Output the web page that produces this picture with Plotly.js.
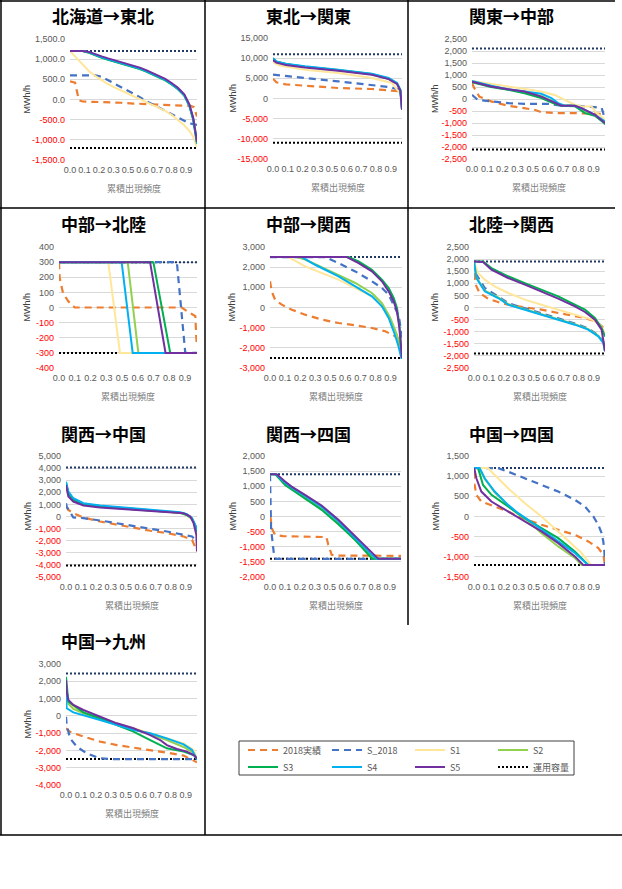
<!DOCTYPE html>
<html><head><meta charset="utf-8">
<script src="https://cdn.plot.ly/plotly-3.0.1.min.js"></script>
<style>html,body{margin:0;padding:0;background:#fff}</style>
</head><body>
<div id="chart" style="width:622px;height:889px"></div>
<script>
// ---------------- data ----------------
const SERIES = ['2018実績','S_2018','S1','S2','S3','S4','S5'];
const CAP_NAME = '運用容量';
const PANEL_TITLES = ['北海道→東北','東北→関東','関東→中部','中部→北陸','中部→関西','北陸→関西','関西→中国','関西→四国','中国→四国','中国→九州'];
const CAP_UP   = [1200, 11000, 2100, 300, 2500, 1900, 4050, 1400, 1200, 2450];
const CAP_DOWN = [-1200, -11000, -2100, -300, -2500, -1900, -4050, -1400, -1200, -2500];
const XTICK_TEXT = ['0.0','0.1','0.2','0.3','0.5','0.6','0.7','0.8','0.9'];
const XTICK_POS = [0, 1000/8760, 2000/8760, 3000/8760, 4000/8760, 5000/8760, 6000/8760, 7000/8760, 8000/8760];

// 北海道→東北
const HT_X = [
 [0,0.04,0.055,0.07,0.1,0.2,0.3,0.4,0.5,0.6,0.7,0.8,0.9,0.95,0.975,0.99,1],
 [0,0.2,0.25,0.3,0.35,0.4,0.45,0.5,0.55,0.6,0.65,0.7,0.75,0.8,0.85,0.9,0.94,0.97,1],
 [0,0.03,0.07,0.1,0.15,0.2,0.25,0.3,0.35,0.4,0.45,0.5,0.55,0.6,0.65,0.7,0.75,0.8,0.85,0.9,0.94,0.97,1],
 [0,0.1,0.15,0.2,0.25,0.3,0.35,0.4,0.45,0.5,0.55,0.6,0.65,0.7,0.75,0.8,0.85,0.9,0.94,0.97,0.99,1],
 [0,0.1,0.15,0.2,0.25,0.3,0.35,0.4,0.45,0.5,0.55,0.6,0.65,0.7,0.75,0.8,0.85,0.9,0.94,0.97,0.99,1],
 [0,0.1,0.15,0.2,0.25,0.3,0.35,0.4,0.45,0.5,0.55,0.6,0.65,0.7,0.75,0.8,0.85,0.9,0.94,0.97,0.99,1],
 [0,0.1,0.15,0.2,0.25,0.3,0.35,0.4,0.45,0.5,0.55,0.6,0.65,0.7,0.75,0.8,0.85,0.9,0.94,0.97,0.99,1]
];
const HT_Y = [
 [450,420,200,-20,-50,-55,-65,-80,-100,-115,-130,-140,-150,-160,-190,-330,-420],
 [600,600,560,480,400,320,230,150,60,-40,-110,-200,-280,-360,-450,-530,-590,-610,-630],
 [1200,1100,950,850,700,580,470,380,300,220,150,80,10,-60,-130,-200,-280,-380,-500,-640,-780,-920,-1180],
 [1200,1200,1165,1095,1040,990,945,900,855,810,760,700,630,560,480,380,260,100,-150,-480,-820,-1000],
 [1200,1200,1160,1090,1035,985,940,895,850,805,755,695,625,555,475,375,255,95,-160,-500,-850,-1100],
 [1200,1200,1170,1100,1045,995,950,905,860,815,765,705,635,565,485,385,265,105,-150,-480,-830,-1080],
 [1200,1200,1180,1120,1070,1020,975,930,885,840,790,730,660,590,510,410,290,130,-120,-450,-800,-1050]
];

// 東北→関東
const TK_X = [
 [0,0.026,0.1,0.247,0.506,0.766,0.922,0.987,1],
 [0,0.05,0.247,0.506,0.766,0.896,0.961,1],
 [0,0.013,0.05,0.247,0.506,0.766,0.922,0.961,0.987,1],
 [0,0.026,0.1,0.247,0.506,0.766,0.896,0.961,0.987,0.995,1],
 [0,0.026,0.1,0.247,0.506,0.766,0.896,0.961,0.987,0.995,1],
 [0,0.026,0.1,0.247,0.506,0.766,0.896,0.961,0.987,0.995,1],
 [0,0.026,0.1,0.247,0.506,0.766,0.896,0.961,0.987,0.995,1]
];
const TK_Y = [
 [4900,4000,3500,3180,2600,2350,2020,1780,1500],
 [5900,5700,5080,4250,3430,2850,2350,1500],
 [9000,8800,8200,7150,6320,5080,3840,2190,1400,800],
 [9900,9150,8550,7900,7080,6080,5000,3750,2150,-50,-2700],
 [9800,9100,8500,7850,7000,6000,4900,3700,2100,-100,-2700],
 [10040,9200,8600,7970,7150,6150,5080,3840,2190,0,-2700],
 [9500,8900,8300,7700,6900,5900,4800,3600,2000,-200,-2770]
];

// 関東→中部
const KC_X = [
 [0,0.018,0.055,0.144,0.27,0.395,0.471,0.521,0.647,0.773,0.899,0.975,1],
 [0,0.043,0.144,0.27,0.395,0.572,0.673,0.773,0.924,0.975,0.987,1],
 [0,0.144,0.27,0.395,0.521,0.622,0.698,0.773,0.824,0.899,0.937,0.987,1],
 [0,0.144,0.27,0.395,0.521,0.622,0.673,0.773,0.849,0.924,1],
 [0,0.144,0.27,0.395,0.521,0.622,0.673,0.773,0.849,0.924,1],
 [0,0.144,0.27,0.395,0.521,0.597,0.647,0.698,0.773,0.849,0.924,1],
 [0,0.144,0.27,0.395,0.521,0.622,0.673,0.773,0.824,0.924,1]
];
const KC_Y = [
 [660,450,100,-100,-280,-380,-450,-550,-590,-590,-590,-590,-620],
 [170,-35,-100,-170,-200,-200,-280,-280,-340,-380,-590,-1070],
 [755,630,520,410,310,170,-35,-240,-310,-310,-590,-800,-930],
 [720,530,400,280,120,-120,-260,-280,-500,-680,-980],
 [700,500,390,240,35,-200,-280,-300,-590,-700,-1030],
 [750,550,410,310,215,35,-170,-280,-280,-450,-660,-930],
 [720,520,410,310,100,-170,-280,-280,-380,-660,-1000]
];

// 中部→北陸
const CH_X = [
 [0,0.005,0.029,0.066,0.114,0.89,0.927,0.988,0.995,1],
 [0,0.854,0.915,1],
 [0,0.357,0.442,1],
 [0,0.498,0.575,1],
 [0,0.684,0.806,1],
 [0,0.454,0.534,1],
 [0,0.66,0.772,1]
];
const CH_Y = [
 [300,195,96,42,0,0,-24,-57,-200,-260],
 [300,300,-300,-300],
 [300,300,-300,-300],
 [300,300,-300,-300],
 [300,300,-300,-300],
 [300,300,-300,-300],
 [300,300,-300,-300]
];

// 中部→関西
const CK_X = [
 [0,0.013,0.038,0.089,0.165,0.266,0.392,0.519,0.646,0.772,0.873,0.949,1],
 [0,0.418,0.519,0.646,0.772,0.848,0.899,0.937,0.96,0.98,1],
 [0,0.139,0.266,0.392,0.519,0.646,0.772,0.848,0.899,0.949,0.98,1],
 [0,0.2,0.266,0.342,0.519,0.646,0.772,0.848,0.911,0.962,0.995,1],
 [0,0.595,0.671,0.772,0.848,0.899,0.937,0.962,0.98,0.995,1],
 [0,0.24,0.342,0.519,0.646,0.772,0.848,0.899,0.937,0.97,0.995,1],
 [0,0.582,0.671,0.772,0.848,0.899,0.937,0.962,0.98,1]
];
const CK_Y = [
 [1300,800,390,140,-107,-355,-600,-770,-885,-1017,-1180,-1430,-1680],
 [2500,2500,2200,1790,1300,967,636,140,-200,-600,-1500],
 [2500,2500,2040,1710,1380,967,553,140,-355,-1180,-1900,-2500],
 [2500,2500,2380,2150,1630,1215,720,223,-520,-1350,-2170,-2500],
 [2500,2500,2290,1876,1380,967,471,-25,-850,-2000,-2500],
 [2500,2500,2120,1545,1050,553,58,-520,-1180,-1840,-2500,-2500],
 [2500,2500,2200,1790,1300,800,305,-190,-1000,-2500]
];

// 北陸→関西
const HK_X = [
 [0,0.013,0.043,0.107,0.184,0.26,0.388,0.515,0.643,0.77,0.847,0.923,0.962,1],
 [0,0.018,0.082,0.158,0.26,0.337,0.388,0.515,0.643,0.77,0.872,0.949,0.987,1],
 [0,0.031,0.082,0.158,0.26,0.388,0.515,0.643,0.77,0.898,0.962,1],
 [0,0.018,0.082,0.184,0.26,0.388,0.515,0.643,0.77,0.872,0.949,0.987,1],
 [0,0.069,0.133,0.26,0.388,0.515,0.643,0.77,0.847,0.923,0.974,1],
 [0,0.018,0.082,0.184,0.26,0.388,0.515,0.643,0.77,0.872,0.949,0.987,1],
 [0,0.069,0.133,0.26,0.388,0.515,0.643,0.77,0.847,0.923,0.974,1]
];
const HK_Y = [
 [1425,940,600,365,227,117,7,-90,-227,-365,-434,-571,-710,-900],
 [1900,1356,805,530,186,48,-40,-250,-450,-660,-870,-1150,-1420,-1750],
 [1900,1425,1150,874,600,324,117,-90,-268,-500,-710,-1050],
 [1900,1250,700,420,140,-70,-280,-480,-690,-895,-1170,-1440,-1800],
 [1900,1900,1630,1290,1010,737,460,117,-90,-434,-847,-1200],
 [1900,1220,668,392,117,-90,-296,-500,-710,-915,-1190,-1466,-1810],
 [1900,1880,1560,1220,943,668,365,48,-186,-500,-915,-1810]
];

// 関西→中国
const KG_X = [
 [0,0.018,0.056,0.133,0.26,0.388,0.515,0.643,0.77,0.898,0.962,1],
 [0,0.005,0.056,0.133,0.26,0.388,0.515,0.643,0.77,0.898,0.962,1],
 [0,0.018,0.056,0.133,0.26,0.515,0.77,0.872,0.923,0.962,0.987,1],
 [0,0.018,0.056,0.133,0.26,0.515,0.77,0.872,0.923,0.962,0.987,1],
 [0,0.018,0.056,0.133,0.26,0.515,0.77,0.872,0.923,0.962,0.987,1],
 [0,0.018,0.056,0.133,0.26,0.515,0.77,0.872,0.923,0.962,0.987,1],
 [0,0.018,0.056,0.133,0.26,0.515,0.77,0.898,0.949,0.974,0.995,1]
];
const KG_Y = [
 [824,550,275,-82,-412,-687,-906,-1180,-1373,-1650,-1923,-2880],
 [1100,824,-82,-137,-330,-550,-824,-1044,-1236,-1510,-1650,-2060],
 [2500,1850,1350,1000,820,620,410,290,80,-250,-700,-900],
 [2700,1950,1420,1050,860,650,440,320,150,-200,-750,-1200],
 [2800,1900,1400,1000,800,600,400,300,120,-150,-800,-1300],
 [2880,2060,1510,1100,906,687,467,357,192,-137,-687,-1100],
 [2610,1650,1236,906,742,550,357,275,0,-550,-1510,-2880]
];

// 関西→四国
const KS_X = [
 [0,0.005,0.013,0.038,0.1,0.3,0.43,0.445,0.471,0.5,1],
 [0,0.008,0.03,0.045,1],
 [0,0.04,0.115,0.165,0.267,0.394,0.522,0.649,0.776,0.802,1],
 [0,0.04,0.115,0.165,0.267,0.394,0.522,0.649,0.776,0.795,1],
 [0,0.04,0.115,0.267,0.394,0.522,0.649,0.776,0.789,1],
 [0,0.045,0.115,0.165,0.267,0.394,0.522,0.649,0.776,0.814,1],
 [0,0.051,0.115,0.165,0.267,0.394,0.522,0.649,0.776,0.827,1]
];
const KS_Y = [
 [0,-50,-385,-604,-650,-670,-680,-934,-1264,-1290,-1300],
 [1400,-400,-1250,-1400,-1400],
 [1400,1400,1080,930,640,280,-200,-760,-1300,-1400,-1400],
 [1400,1400,1060,910,620,250,-230,-780,-1330,-1400,-1400],
 [1400,1400,1044,604,220,-253,-770,-1374,-1400,-1400],
 [1400,1400,1120,960,680,320,-160,-720,-1260,-1400,-1400],
 [1400,1400,1154,989,714,363,-110,-660,-1209,-1400,-1400]
];

// 中国→四国
const CS_X = [
 [0,0.005,0.018,0.056,0.158,0.26,0.337,0.515,0.643,0.77,0.872,0.949,0.987,1],
 [0,0.184,0.26,0.388,0.515,0.643,0.77,0.847,0.911,0.949,0.974,0.987,0.995,1],
 [0,0.107,0.158,0.26,0.388,0.515,0.643,0.77,0.821,0.872,0.893,1],
 [0,0.04,0.082,0.158,0.26,0.337,0.413,0.515,0.643,0.77,0.821,1],
 [0,0.031,0.069,0.133,0.26,0.388,0.515,0.643,0.77,0.847,0.872,1],
 [0,0.043,0.082,0.158,0.26,0.337,0.413,0.515,0.643,0.77,0.847,0.872,1],
 [0,0.005,0.018,0.056,0.133,0.26,0.388,0.515,0.643,0.77,0.834,1]
];
const CS_Y = [
 [1112,783,536,371,247,124,0,-206,-330,-453,-618,-783,-948,-1200],
 [1200,1200,1112,948,783,618,412,247,0,-206,-412,-618,-865,-1200],
 [1200,1200,1030,700,330,0,-371,-742,-906,-1112,-1200,-1200],
 [1200,1200,930,600,270,60,-110,-412,-742,-1030,-1200,-1200],
 [1200,1200,783,536,247,-41,-288,-536,-865,-1112,-1200,-1200],
 [1200,1200,948,618,288,82,-82,-330,-618,-906,-1112,-1200,-1200],
 [1200,1150,948,618,371,124,-124,-371,-660,-989,-1200,-1200]
];

// 中国→九州
const CQ_X = [
 [0,0.005,0.031,0.133,0.26,0.388,0.515,0.643,0.77,0.898,1],
 [0,0.005,0.031,0.082,0.158,0.26,0.337,1],
 [0,0.031,0.133,0.26,0.388,0.515,0.643,0.77,0.898,0.974,1],
 [0,0.018,0.056,0.133,0.26,0.388,0.515,0.643,0.77,0.898,0.974,1],
 [0,0.018,0.133,0.26,0.388,0.515,0.643,0.719,0.77,0.898,0.974,1],
 [0,0.005,0.056,0.133,0.26,0.388,0.515,0.643,0.77,0.898,0.962,1],
 [0,0.005,0.018,0.056,0.133,0.26,0.388,0.515,0.643,0.719,0.77,0.847,0.923,0.974,1]
];
const CQ_Y = [
 [-700,-765,-920,-1200,-1490,-1690,-1840,-1970,-2130,-2300,-2690],
 [-50,-530,-1300,-1780,-2170,-2460,-2500,-2500],
 [1200,630,200,-140,-430,-720,-1010,-1300,-1590,-1970,-2460],
 [1500,700,400,150,-180,-480,-780,-1050,-1400,-1800,-2150,-2500],
 [2260,820,200,-140,-530,-910,-1400,-1690,-1880,-2070,-2270,-2460],
 [1300,435,200,50,-240,-530,-815,-1010,-1300,-1650,-1970,-2560],
 [2070,1400,918,630,340,-46,-432,-720,-1110,-1400,-1690,-1920,-2070,-2270,-2460]
];

const PANEL_X = [HT_X, TK_X, KC_X, CH_X, CK_X, HK_X, KG_X, KS_X, CS_X, CQ_X];
const PANEL_Y = [HT_Y, TK_Y, KC_Y, CH_Y, CK_Y, HK_Y, KG_Y, KS_Y, CS_Y, CQ_Y];

// ---------------- styling / geometry ----------------
const W = 622, H = 889;
const COLORS = ['#ED7D31','#4472C4','#FFE699','#92D050','#00B050','#00B0F0','#7030A0'];
const DASHES = ['7px,5px','7px,5px','solid','solid','solid','solid','solid'];
// plot boxes [left, right, top, bottom] in px
const BOX = [
 [70,197,39,160],[273,402,38,159],[472,605,39,159],
 [59,197,247,368],[270,402,247,368],[474,605,247,368],
 [66,197,456,577],[270,401,456,577],[474,605,456,577],
 [66,197,664,785]
];
const CELL_X = [0,205,408, 0,205,408, 0,205,408, 0];
const TITLE_Y = [15,15,15, 223,223,223, 433,433,433, 640];
const YAX = [ // [min,max,step,decimals]
 [-1500,1500,500,1],[-15000,15000,5000,0],[-2500,2500,500,0],
 [-400,400,100,0],[-3000,3000,1000,0],[-2500,2500,500,0],
 [-5000,5000,1000,0],[-2000,2000,500,0],[-1500,1500,500,0],
 [-4000,3000,1000,0]
];
// legend entry anchor positions (px): 7 series then capacity
const LEG_POS = [[243,750],[327,750],[410,750],[493,750],[243,767],[327,767],[410,767],[493,767]];
const FONT = 'Liberation Sans, Noto Sans CJK JP, sans-serif';
const JFONT = 'Noto Sans CJK JP, sans-serif';

function fmt(v, d){
  const s = Math.abs(v).toLocaleString('en-US',{minimumFractionDigits:d, maximumFractionDigits:d});
  if (v < 0) return '<span style="color:#FF0000">-' + s + '</span>';
  return s;
}
function legName(j){ return j === 0 ? 'legend' : 'legend' + (j + 1); }

const traces = [];
const layout = {
  width: W, height: H, margin:{l:0,r:0,t:0,b:0},
  paper_bgcolor:'#fff', plot_bgcolor:'rgba(0,0,0,0)',
  font:{family:FONT, size:9, color:'#595959'},
  showlegend:true,
  annotations:[], shapes:[]
};
LEG_POS.forEach((p, j) => {
  layout[legName(j)] = {orientation:'v', x:p[0]/W, y:1-p[1]/H, xanchor:'left', yanchor:'middle',
    itemwidth:30, bgcolor:'rgba(0,0,0,0)', borderwidth:0,
    font:{family:JFONT, size:9, color:'#595959'}};
});

for (let i = 0; i < 10; i++) {
  const k = i === 0 ? '' : String(i + 1);
  const [l, r, t, b] = BOX[i];
  const [ymin, ymax, step, dec] = YAX[i];
  const tv = [], tt = [];
  for (let v = ymin; v <= ymax + 1e-9; v += step) { tv.push(v); tt.push(fmt(v, dec)); }
  layout['xaxis' + k] = {
    domain:[l / W, r / W], anchor:'y' + k, range:[0, 1], fixedrange:true,
    tickmode:'array', tickvals:XTICK_POS, ticktext:XTICK_TEXT, tickangle:0,
    showgrid:false, zeroline:false, showline:false, ticks:'',
    ticklabelstandoff:3, tickfont:{family:FONT, size:9, color:'#595959'}
  };
  layout['yaxis' + k] = {
    domain:[1 - b / H, 1 - t / H], anchor:'x' + k, range:[ymin, ymax], fixedrange:true,
    tickmode:'array', tickvals:tv, ticktext:tt,
    showgrid:true, gridcolor:'#D9D9D9', gridwidth:1, zeroline:false, showline:false, ticks:'',
    ticklabelstandoff:4, tickfont:{family:FONT, size:9, color:'#595959'}
  };
  traces.push({x:[0,1], y:[CAP_UP[i], CAP_UP[i]], xaxis:'x'+k, yaxis:'y'+k, mode:'lines',
    line:{color:'#1F3864', width:2, dash:'2px,2px'}, showlegend:false, hoverinfo:'skip'});
  traces.push({x:[0,1], y:[CAP_DOWN[i], CAP_DOWN[i]], xaxis:'x'+k, yaxis:'y'+k, mode:'lines',
    name:CAP_NAME, legend:legName(7),
    line:{color:'#000000', width:2, dash:'2px,2px'}, showlegend:i===0, hoverinfo:'skip'});
  for (let s = 0; s < SERIES.length; s++) {
    traces.push({x:PANEL_X[i][s], y:PANEL_Y[i][s], xaxis:'x'+k, yaxis:'y'+k, mode:'lines',
      name:SERIES[s], legend:legName(s),
      line:{color:COLORS[s], width: s < 2 ? 2.2 : 2, dash:DASHES[s]},
      showlegend:i===0, hoverinfo:'skip'});
  }
  layout.annotations.push({text:'<b>' + PANEL_TITLES[i] + '</b>', xref:'paper', yref:'paper',
    x:(CELL_X[i] + 103) / W, y:1 - TITLE_Y[i] / H, xanchor:'center', yanchor:'middle', showarrow:false,
    font:{family:JFONT, size:17, color:'#000'}});
  layout.annotations.push({text:'累積出現頻度', xref:'paper', yref:'paper',
    x:((l + r) / 2) / W, y:1 - (b + 28) / H, xanchor:'center', yanchor:'middle', showarrow:false,
    font:{family:JFONT, size:9, color:'#808080'}});
  layout.annotations.push({text:'MWh/h', xref:'paper', yref:'paper', textangle:-90,
    x:(CELL_X[i] + 27) / W, y:1 - ((t + b) / 2) / H, xanchor:'center', yanchor:'middle', showarrow:false,
    font:{family:FONT, size:9, color:'#404040'}});
}

function hline(y, x0, x1, w){ layout.shapes.push({type:'line', xref:'paper', yref:'paper', x0:x0/W, x1:x1/W, y0:1-y/H, y1:1-y/H, line:{color:'#000', width:w||1.5}}); }
function vline(x, y0, y1, w){ layout.shapes.push({type:'line', xref:'paper', yref:'paper', x0:x/W, x1:x/W, y0:1-y0/H, y1:1-y1/H, line:{color:'#000', width:w||1.5}}); }
hline(1, 0, 615); hline(208, 0, 615); hline(835, 0, 622);
vline(1, 0, 835); vline(205, 0, 835); vline(408, 0, 625);
layout.shapes.push({type:'rect', xref:'paper', yref:'paper', x0:239/W, x1:574/W, y0:1-775/H, y1:1-741/H,
  line:{color:'#404040', width:1}, fillcolor:'rgba(0,0,0,0)'});

Plotly.newPlot('chart', traces, layout, {staticPlot:true, displayModeBar:false});
</script>
</body></html>
